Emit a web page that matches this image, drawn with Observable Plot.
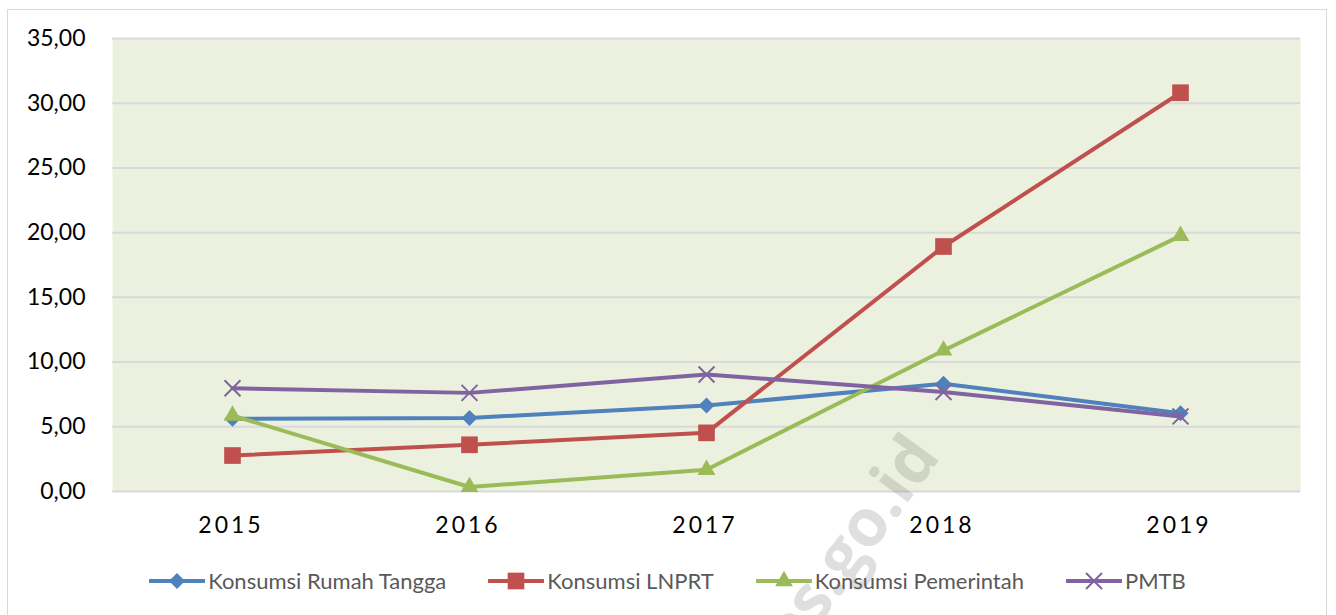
<!DOCTYPE html>
<html>
<head>
<meta charset="utf-8">
<script src="https://cdn.jsdelivr.net/npm/d3@7"></script>
<script src="https://cdn.jsdelivr.net/npm/@observablehq/plot@0.6"></script>
<style>
  html, body { margin: 0; padding: 0; background: #fff; }
  #wrap { position: relative; width: 1336px; height: 615px; overflow: hidden; font-family: Lato, "Open Sans", sans-serif; }
  #border { position: absolute; left: 7px; top: 9px; width: 1320px; height: 640px; border: 1.5px solid #D9D9D9; box-sizing: border-box; }
  #chart { position: absolute; left: 0; top: 0; }
  #legend { position: absolute; left: 7px; width: 1321px; top: 567px; display: flex; justify-content: center; gap: 42px; font-size: 22px; color: #595959; }
  #legend .item { display: flex; align-items: center; gap: 3px; }
  #watermark { position: absolute; left: 834px; top: 560px; transform: translate(-50%, -50%) rotate(-54deg); font-family: "Open Sans", sans-serif; font-weight: 700; font-size: 66px; color: rgba(110,110,110,0.22); white-space: nowrap; pointer-events: none; }
  .chart [aria-label="x-axis tick label"] text { letter-spacing: 3px; }
</style>
</head>
<body>
<div id="wrap">
  <div id="border"></div>
  <div id="chart"></div>
  <div id="legend"></div>
  <div id="watermark">bps.go.id</div>
</div>
<script>
const years = ["2015", "2016", "2017", "2018", "2019"];
const seriesNames = ["Konsumsi Rumah Tangga", "Konsumsi LNPRT", "Konsumsi Pemerintah", "PMTB"];
const rumahTangga = [5.62, 5.68, 6.65, 8.32, 6.05];
const lnprt = [2.78, 3.61, 4.53, 18.93, 30.81];
const pemerintah = [5.87, 0.35, 1.68, 10.90, 19.75];
const pmtb = [7.98, 7.62, 9.04, 7.68, 5.80];
const yTicks = [0, 5, 10, 15, 20, 25, 30, 35];

const colors = ["#4F81BD", "#C0504D", "#9BBB59", "#8064A2"];
const symbols = ["diamond2", "square", "triangle", "times"];
const radii = [7.2, 9.4, 6.6, 7.3];

const seriesValues = [rumahTangga, lnprt, pemerintah, pmtb];
const data = seriesNames.map((name, i) => years.map((yr, j) => ({series: name, year: yr, value: seriesValues[i][j]})));

const fmt = v => d3.format(".2f")(v).replace(".", ",");

const marks = [
  Plot.frame({fill: "#EBF1DE", stroke: null}),
  Plot.ruleY(yTicks, {stroke: "#D9D9D9", strokeWidth: 2}),
  Plot.axisY({ticks: yTicks, tickFormat: fmt, tickSize: 0, tickPadding: 27, fontSize: 23, fill: "#000", label: null}),
  Plot.axisX({tickSize: 0, tickPadding: 25, fontSize: 23, fill: "#000", label: null, dx: -1.5})
];
data.forEach((d, i) => {
  marks.push(Plot.line(d, {x: "year", y: "value", stroke: colors[i], strokeWidth: 4, curve: "linear"}));
  if (symbols[i] === "times") {
    marks.push(Plot.dot(d, {x: "year", y: "value", symbol: symbols[i], r: radii[i], stroke: colors[i], strokeWidth: 2, fill: "none"}));
  } else {
    marks.push(Plot.dot(d, {x: "year", y: "value", symbol: symbols[i], r: radii[i], fill: colors[i], stroke: "none"}));
  }
});

const chart = Plot.plot({
  width: 1336,
  height: 550,
  marginLeft: 112,
  marginRight: 36,
  marginTop: 38,
  marginBottom: 59,
  className: "chart",
  style: {fontFamily: "Lato, 'Open Sans', sans-serif", background: "transparent", overflow: "visible"},
  x: {type: "point", domain: years, padding: 0.5},
  y: {domain: [0, 35]},
  marks
});
document.getElementById("chart").appendChild(chart);

// legend
const legend = d3.select("#legend");
seriesNames.forEach((name, i) => {
  const item = legend.append("div").attr("class", "item");
  const svg = item.append("svg").attr("width", 56).attr("height", 22);
  svg.append("line").attr("x1", 1).attr("x2", 55).attr("y1", 11).attr("y2", 11)
    .attr("stroke", colors[i]).attr("stroke-width", 4).attr("stroke-linecap", "round");
  const sym = d3.symbol().type({
    diamond2: d3.symbolDiamond2, square: d3.symbolSquare, triangle: d3.symbolTriangle, times: d3.symbolTimes
  }[symbols[i]]).size(Math.PI * radii[i] * radii[i]);
  const p = svg.append("path").attr("d", sym()).attr("transform", "translate(28,11)");
  if (symbols[i] === "times") p.attr("fill", "none").attr("stroke", colors[i]).attr("stroke-width", 2);
  else p.attr("fill", colors[i]);
  item.append("span").text(name);
});
</script>
</body>
</html>
